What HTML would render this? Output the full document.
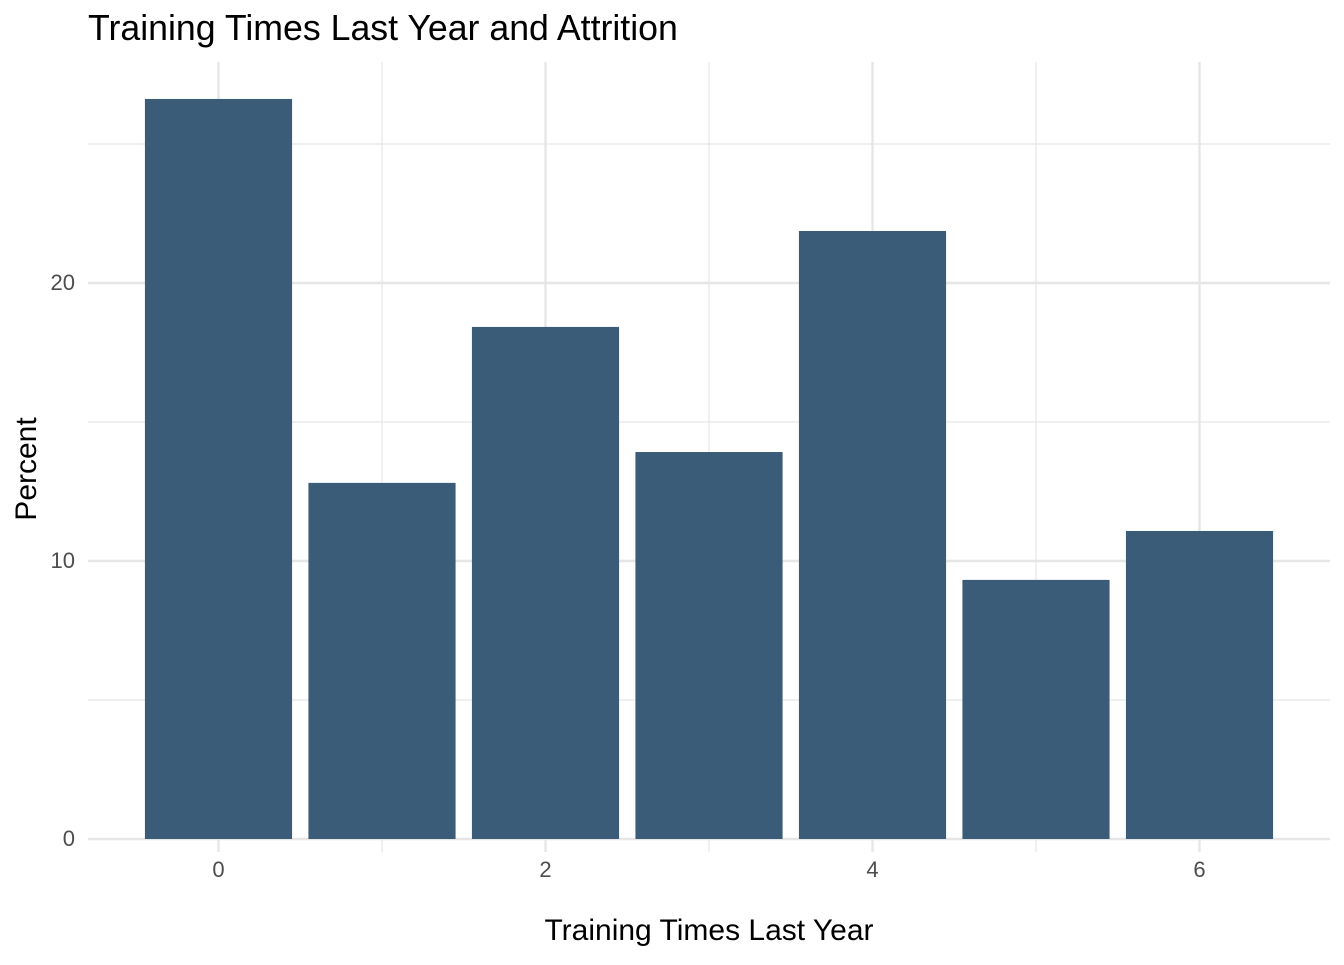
<!DOCTYPE html>
<html><head><meta charset="utf-8"><style>
body{margin:0;background:#fff;font-family:"Liberation Sans",Arial,sans-serif}
</style></head><body>
<svg id="chart" width="1344" height="960" xmlns="http://www.w3.org/2000/svg" font-family="Liberation Sans, Arial, sans-serif">
<text x="88" y="40" font-size="35.7px" fill="#000">Training Times Last Year and Attrition</text>
<g id="grid"></g><g id="bars"></g><g id="ticks"></g>
<text x="709" y="940" font-size="30px" text-anchor="middle" fill="#000">Training Times Last Year</text>
<text transform="translate(36,469) rotate(-90)" font-size="30px" text-anchor="middle" fill="#000">Percent</text>
</svg>
<script>
const categories=[0,1,2,3,4,5,6];
const percents=[26.62,12.81,18.42,13.92,21.87,9.32,11.08];
const yTicks=[0,10,20];
const yMinor=[5,15,25];
const xTicks=[0,2,4,6];
const xMinor=[1,3,5];
const NS="http://www.w3.org/2000/svg";
const xs=v=>218.5+v*163.5;
const ys=v=>839-v*27.8;
const L=88,R=1330,T=62,B=852;
function mk(tag,attrs,parent){const e=document.createElementNS(NS,tag);for(const k in attrs)e.setAttribute(k,attrs[k]);document.getElementById(parent).appendChild(e);return e;}
yMinor.forEach(v=>{const e=mk('line',{x1:L,x2:R,y1:ys(v),y2:ys(v),stroke:'#e6e6e6','stroke-width':1.2},'grid');

});
xMinor.forEach(v=>{const e=mk('line',{x1:xs(v),x2:xs(v),y1:T,y2:B,stroke:'#e6e6e6','stroke-width':1.2},'grid');

});
yTicks.forEach(v=>{const e=mk('line',{x1:L,x2:R,y1:ys(v),y2:ys(v),stroke:'#e6e6e6','stroke-width':2.4},'grid');


const t=mk('text',{x:75,y:ys(v)+7,'font-size':'22px',fill:'#4d4d4d','text-anchor':'end'},'ticks');t.textContent=v;

});
xTicks.forEach(v=>{const e=mk('line',{x1:xs(v),x2:xs(v),y1:T,y2:B,stroke:'#e6e6e6','stroke-width':2.4},'grid');


const t=mk('text',{x:xs(v),y:877,'font-size':'22px',fill:'#4d4d4d','text-anchor':'middle'},'ticks');t.textContent=v;

});
categories.forEach((c,i)=>{const w=0.9*163.5;const b=mk('rect',{x:xs(c)-w/2,y:ys(percents[i]),width:w,height:ys(0)-ys(percents[i]),fill:'#3b5c78'},'bars');

});
</script>
</body></html>
